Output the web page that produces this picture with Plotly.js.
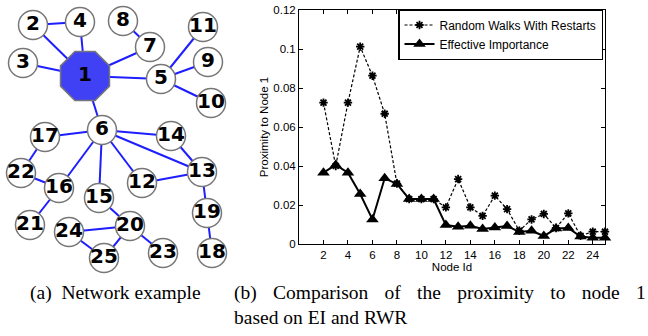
<!DOCTYPE html>
<html>
<head>
<meta charset="utf-8">
<script src="https://cdn.plot.ly/plotly-3.0.1.min.js"></script>
<style>html,body{margin:0;padding:0;background:#fff;}#chart{width:648px;height:336px;}</style>
</head>
<body>
<div id="chart"></div>
<script>
// ---- Network (a) data ----
const nodeIds = ['1','2','3','4','5','6','7','8','9','10','11','12','13','14','15','16','17','18','19','20','21','22','23','24','25'];
const nodeX = [85,33,23,80,161,102,150,123,208,211,203,142,202,171,99,59,45,212,207,130,30,21,163,69,104];
const nodeY = [76,25,63,22,79,130,47,21,62,103,27,183,172,136,198,188,137,253,213,226,225,173,253,232,258];
const edgeFrom = [1,1,1,2,1,7,1,5,5,5,1,6,6,6,6,6,6,14,12,13,19,17,22,16,15,20,20,24,20];
const edgeTo   = [2,3,4,4,7,8,5,11,9,10,6,17,14,13,12,15,16,13,13,19,18,22,16,21,20,24,25,25,23];

// ---- Proximity chart (b) data ----
const nodeIdAxis = [2,3,4,5,6,7,8,9,10,11,12,13,14,15,16,17,18,19,20,21,22,23,24,25];
const rwrValues = [0.0725,0.040,0.0725,0.1012,0.0863,0.0668,0.031,0.023,0.023,0.023,0.0188,0.0333,0.0188,0.0144,0.0248,0.0179,0.0068,0.0126,0.0154,0.0082,0.0157,0.0042,0.0063,0.0063];
const eiValues  = [0.0366,0.0405,0.0366,0.0256,0.0126,0.0337,0.0308,0.0231,0.0231,0.0231,0.0097,0.0089,0.0094,0.0077,0.0085,0.0092,0.0062,0.0068,0.0041,0.0079,0.0082,0.0038,0.0032,0.0032];
const xTickVals = [2,4,6,8,10,12,14,16,18,20,22,24];
const xTickText = ['2','4','6','8','10','12','14','16','18','20','22','24'];
const yTickVals = [0,0.02,0.04,0.06,0.08,0.1,0.12];
const yTickText = ['0','0.02','0.04','0.06','0.08','0.1','0.12'];
const captionWordsB = ['(b)','Comparison','of','the','proximity','to','node','1'];

const W = 648, H = 336;

// build edge polyline from node arrays
const ex = [], ey = [];
for (let i = 0; i < edgeFrom.length; i++) {
  const a = edgeFrom[i]-1, b = edgeTo[i]-1;
  ex.push(nodeX[a], nodeX[b], null);
  ey.push(nodeY[a], nodeY[b], null);
}
const otherIdx = nodeIds.map((_, i) => i).filter(i => i !== 0);
const labelFont = { family: 'DejaVu Sans', size: 20, color: '#000000', weight: 'bold' };

const traces = [
  { x: ex, y: ey, xaxis: 'x', yaxis: 'y', mode: 'lines', type: 'scatter',
    line: { color: 'rgb(30,30,255)', width: 2 }, hoverinfo: 'skip', showlegend: false, cliponaxis: false },
  { x: otherIdx.map(i => nodeX[i]), y: otherIdx.map(i => nodeY[i]), text: otherIdx.map(i => nodeIds[i]),
    xaxis: 'x', yaxis: 'y', mode: 'markers+text', type: 'scatter', showlegend: false, cliponaxis: false,
    marker: { symbol: 'circle', size: 29, color: '#ffffff', line: { color: '#777777', width: 1.5 } },
    textposition: 'middle center', textfont: labelFont },
  { x: [nodeX[0]], y: [nodeY[0]], text: [nodeIds[0]], xaxis: 'x', yaxis: 'y',
    mode: 'markers+text', type: 'scatter', showlegend: false, cliponaxis: false,
    marker: { symbol: 'octagon', size: 53, color: 'rgb(64,64,245)', line: { color: '#777777', width: 1.5 } },
    textposition: 'middle center', textfont: labelFont },
  { x: nodeIdAxis, y: rwrValues, xaxis: 'x2', yaxis: 'y2', type: 'scatter', mode: 'lines+markers',
    name: 'Random Walks With Restarts', cliponaxis: false,
    line: { color: '#000000', width: 1.2, dash: '3px,2px' },
    marker: { symbol: 'asterisk-open', size: 7, color: '#000000', line: { color: '#000000', width: 1.8 } } },
  { x: nodeIdAxis, y: eiValues, xaxis: 'x2', yaxis: 'y2', type: 'scatter', mode: 'lines+markers',
    name: 'Effective Importance', cliponaxis: false,
    line: { color: '#000000', width: 2 },
    marker: { symbol: 'triangle-up', size: 11, color: '#000000' } }
];

const tickFont = { family: 'Liberation Sans, Arial, sans-serif', size: 11.5, color: '#000000' };
const serif = { family: 'Liberation Serif, Times New Roman, serif', size: 19.5, color: '#000000' };
const gap = '\u2002\u00a0\u200a';

const layout = {
  width: W, height: H,
  margin: { l: 0, r: 0, t: 0, b: 0, pad: 0 },
  paper_bgcolor: '#ffffff', plot_bgcolor: '#ffffff',
  showlegend: true,
  xaxis: { domain: [0, 230/W], range: [0, 230], visible: false, fixedrange: true },
  yaxis: { domain: [1 - 280/H, 1], range: [280, 0], visible: false, fixedrange: true },
  xaxis2: { domain: [299/W, 605/W], range: [0, 25], anchor: 'y2',
    tickmode: 'array', tickvals: xTickVals, ticktext: xTickText,
    ticks: 'inside', ticklen: 4, tickwidth: 1, tickcolor: '#000',
    showline: true, linecolor: '#000', linewidth: 1, mirror: 'ticks',
    showgrid: false, zeroline: false, tickfont: tickFont,
    title: { text: 'Node Id', font: tickFont, standoff: 0 } },
  yaxis2: { domain: [1 - 244/H, 1 - 10/H], range: [0, 0.12], anchor: 'x2',
    tickmode: 'array', tickvals: yTickVals, ticktext: yTickText,
    ticks: 'inside', ticklen: 4, tickwidth: 1, tickcolor: '#000',
    showline: true, linecolor: '#000', linewidth: 1, mirror: 'ticks',
    showgrid: false, zeroline: false, tickfont: tickFont,
    title: { text: 'Proximity to Node 1', font: tickFont, standoff: 2 } },
  legend: { x: 603/W, xanchor: 'right', y: 1 - 9/H, yanchor: 'top',
    bgcolor: '#ffffff', bordercolor: '#000000', borderwidth: 1.5,
    font: { family: 'Liberation Sans, Arial, sans-serif', size: 12, color: '#000' },
    itemwidth: 30, tracegroupgap: 0 },
  annotations: [
    { xref: 'paper', yref: 'paper', x: 28/W, y: 1 - 293/H, xanchor: 'left', yanchor: 'middle',
      text: '(a)\u00a0\u00a0Network example', showarrow: false, font: serif },
    { xref: 'paper', yref: 'paper', x: 232/W, y: 1 - 293/H, xanchor: 'left', yanchor: 'middle',
      text: captionWordsB.join(gap), showarrow: false, font: serif },
    { xref: 'paper', yref: 'paper', x: 232/W, y: 1 - 317/H, xanchor: 'left', yanchor: 'middle',
      text: 'based on EI and RWR', showarrow: false, font: serif }
  ]
};

Plotly.newPlot('chart', traces, layout, { displayModeBar: false, staticPlot: true });
</script>
</body>
</html>
